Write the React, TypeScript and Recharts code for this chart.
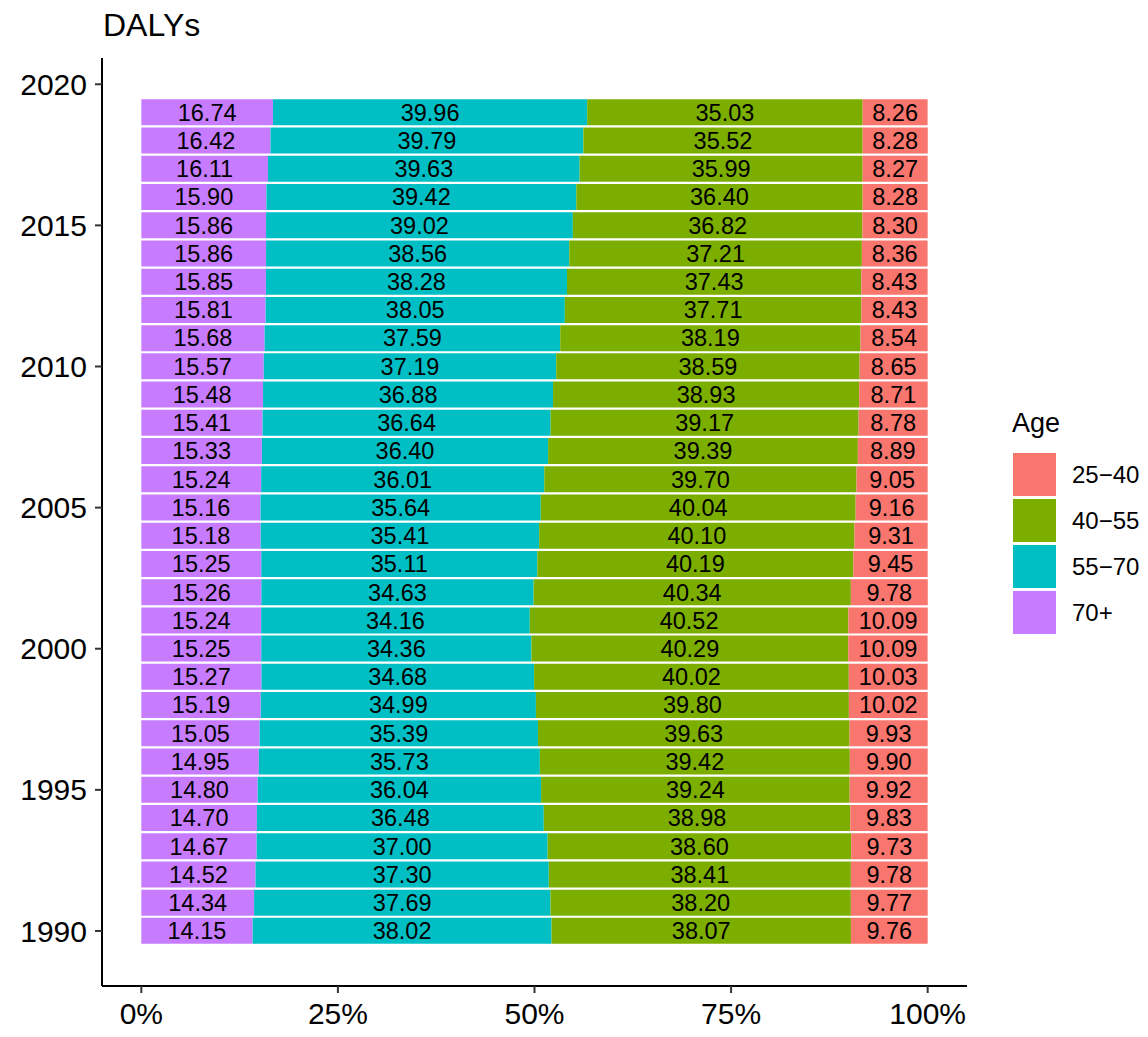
import React from 'react';
import { Bar, BarChart, LabelList, XAxis, YAxis } from 'recharts';

// years 1990 -> 2019, shares (%) of DALYs by age group
const years = [
  1990, 1991, 1992, 1993, 1994, 1995, 1996, 1997, 1998, 1999,
  2000, 2001, 2002, 2003, 2004, 2005, 2006, 2007, 2008, 2009,
  2010, 2011, 2012, 2013, 2014, 2015, 2016, 2017, 2018, 2019,
];
const age70plus = [
  14.15, 14.34, 14.52, 14.67, 14.7, 14.8, 14.95, 15.05, 15.19, 15.27,
  15.25, 15.24, 15.26, 15.25, 15.18, 15.16, 15.24, 15.33, 15.41, 15.48,
  15.57, 15.68, 15.81, 15.85, 15.86, 15.86, 15.9, 16.11, 16.42, 16.74,
];
const age55to70 = [
  38.02, 37.69, 37.3, 37.0, 36.48, 36.04, 35.73, 35.39, 34.99, 34.68,
  34.36, 34.16, 34.63, 35.11, 35.41, 35.64, 36.01, 36.4, 36.64, 36.88,
  37.19, 37.59, 38.05, 38.28, 38.56, 39.02, 39.42, 39.63, 39.79, 39.96,
];
const age40to55 = [
  38.07, 38.2, 38.41, 38.6, 38.98, 39.24, 39.42, 39.63, 39.8, 40.02,
  40.29, 40.52, 40.34, 40.19, 40.1, 40.04, 39.7, 39.39, 39.17, 38.93,
  38.59, 38.19, 37.71, 37.43, 37.21, 36.82, 36.4, 35.99, 35.52, 35.03,
];
const age25to40 = [
  9.76, 9.77, 9.78, 9.73, 9.83, 9.92, 9.9, 9.93, 10.02, 10.03,
  10.09, 10.09, 9.78, 9.45, 9.31, 9.16, 9.05, 8.89, 8.78, 8.71,
  8.65, 8.54, 8.43, 8.43, 8.36, 8.3, 8.28, 8.27, 8.28, 8.26,
];

const xTicks = [0, 25, 50, 75, 100];
const yTicks = [1990, 1995, 2000, 2005, 2010, 2015, 2020];

// stacking order left -> right
const series = [
  { key: 'a70', name: '70+', color: '#C77CFF' },
  { key: 'a55', name: '55\u221270', color: '#00BFC4' },
  { key: 'a40', name: '40\u221255', color: '#7CAE00' },
  { key: 'a25', name: '25\u221240', color: '#F8766D' },
];

const data = years.map((year, i) => ({
  year,
  a70: age70plus[i],
  a55: age55to70[i],
  a40: age40to55[i],
  a25: age25to40[i],
}));

const FONT = '"Liberation Sans", Arial, Helvetica, sans-serif';
const tickStyle = { fill: '#000', fontSize: 30, fontFamily: FONT };

export default function App() {
  const legendItems = [...series].reverse();
  return (
    <div style={{ position: 'absolute', left: 0, top: 0, width: 1148, height: 1037, background: '#fff' }}>
      <BarChart
        width={1148}
        height={1037}
        data={data}
        layout="vertical"
        margin={{ top: 58, right: 181, bottom: 0, left: 0 }}
      >
        <XAxis
          type="number"
          domain={[-5, 105]}
          ticks={xTicks}
          tickFormatter={(v) => `${v}%`}
          height={51}
          tick={tickStyle}
          tickSize={7}
          tickMargin={10}
          axisLine={{ stroke: '#000', strokeWidth: 2 }}
          tickLine={{ stroke: '#333', strokeWidth: 2 }}
          allowDataOverflow
        />
        <YAxis
          type="number"
          dataKey="year"
          domain={[1988.05, 2020.93]}
          ticks={yTicks}
          reversed
          width={102}
          tick={tickStyle}
          tickSize={7}
          tickMargin={8}
          axisLine={{ stroke: '#000', strokeWidth: 2 }}
          tickLine={{ stroke: '#333', strokeWidth: 2 }}
          allowDataOverflow
        />
        {series.map((s) => (
          <Bar key={s.key} dataKey={s.key} stackId="age" fill={s.color} barSize={26} isAnimationActive={false}>
            <LabelList
              dataKey={s.key}
              position="center"
              formatter={(v: number) => Number(v).toFixed(2)}
              style={{ fill: '#000', fontSize: 23.5, fontFamily: FONT }}
            />
          </Bar>
        ))}
      </BarChart>

      <svg width={1148} height={1037} style={{ position: 'absolute', left: 0, top: 0, pointerEvents: 'none' }}>
        <text x={103} y={36} fontSize={32} fontFamily={FONT} fill="#000">DALYs</text>
        <text x={1012} y={432} fontSize={27} fontFamily={FONT} fill="#000">Age</text>
        {legendItems.map((s, i) => (
          <g key={s.key}>
            <rect x={1013} y={453 + i * 46} width={43} height={43} fill={s.color} />
            <text x={1072} y={474.5 + i * 46} dy="0.36em" fontSize={24} fontFamily={FONT} fill="#000">
              {s.name}
            </text>
          </g>
        ))}
      </svg>
    </div>
  );
}
